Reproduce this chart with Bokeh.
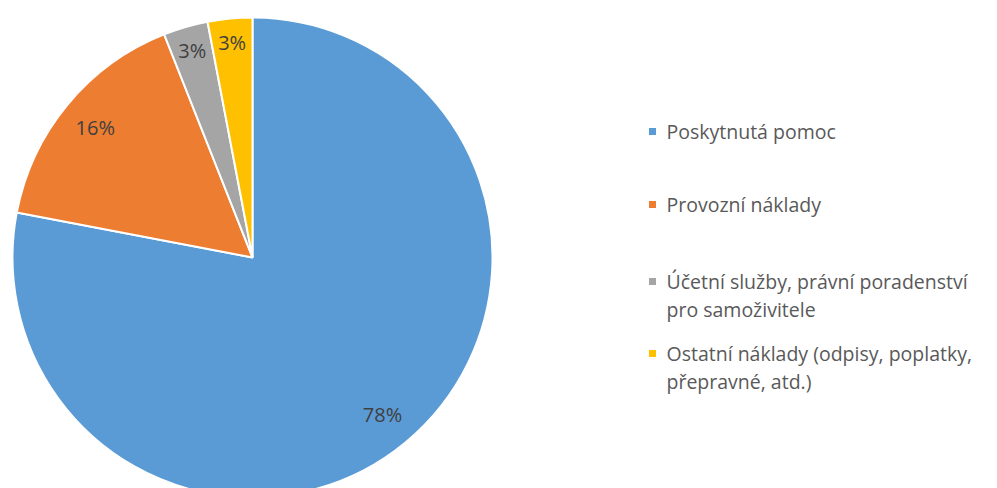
import math
from bokeh.plotting import figure
from bokeh.models import Range1d, ColumnDataSource
from bokeh.core.properties import value
from bokeh.embed import file_html
from bokeh.resources import INLINE

# ---- data ----
categories = [
    "Poskytnutá pomoc",
    "Provozní náklady",
    "Účetní služby, právní poradenství\npro samoživitele",
    "Ostatní náklady (odpisy, poplatky,\npřepravné, atd.)",
]
shares = [78, 16, 3, 3]
pct_labels = ["78%", "16%", "3%", "3%"]
colors = ["#5B9BD5", "#ED7D31", "#A5A5A5", "#FFC000"]

# ---- layout (pixels, measured from top-left of the figure) ----
W, H = 981, 488
CX, CY = 252, H - 257
R = 240
label_frac = [0.85, 0.85, 0.9, 0.9]
FONT = "Open Sans"

p = figure(width=W, height=H, output_backend="svg", toolbar_location=None,
           x_range=Range1d(0, W), y_range=Range1d(0, H),
           min_border=0, outline_line_color=None)
p.axis.visible = False
p.grid.visible = False
p.background_fill_color = "white"

total = float(sum(shares))
starts, ends, lx, ly = [], [], [], []
cum = 0.0
for i, s in enumerate(shares):
    a0 = math.pi / 2 - 2 * math.pi * cum / total
    cum += s
    a1 = math.pi / 2 - 2 * math.pi * cum / total
    starts.append(a0)
    ends.append(a1)
    mid = (a0 + a1) / 2
    lx.append(CX + R * label_frac[i] * math.cos(mid))
    ly.append(CY + R * label_frac[i] * math.sin(mid))

src = ColumnDataSource(dict(start=starts, end=ends, color=colors,
                            lx=lx, ly=ly, lab=pct_labels))
p.wedge(x=CX, y=CY, radius=R, start_angle="start", end_angle="end",
        direction="clock", fill_color="color", line_color="white",
        line_width=2, source=src)
p.text(x="lx", y="ly", text="lab", source=src, text_align="center",
       text_baseline="middle", text_font=value(FONT), text_font_size="20px",
       text_color="#404040")

# ---- manual legend ----
leg_x_sq = 652
leg_x_txt = 666
leg_rows = [131, 204, 281, 353]   # y (from top) of first line of each entry
line_gap = 28
sq_x, sq_y, sq_c = [], [], []
tx, ty, tt = [], [], []
for i, cat in enumerate(categories):
    yy = H - leg_rows[i]
    sq_x.append(leg_x_sq)
    sq_y.append(yy)
    sq_c.append(colors[i])
    for j, line in enumerate(cat.split("\n")):
        tx.append(leg_x_txt)
        ty.append(yy - j * line_gap)
        tt.append(line)
p.rect(x=sq_x, y=sq_y, width=7, height=7, fill_color=sq_c, line_color=None)
p.text(x=tx, y=ty, text=tt, text_align="left", text_baseline="middle",
       text_font=value(FONT), text_font_size="19.5px", text_color="#595959")

open("out.html", "w").write(file_html(p, INLINE))
